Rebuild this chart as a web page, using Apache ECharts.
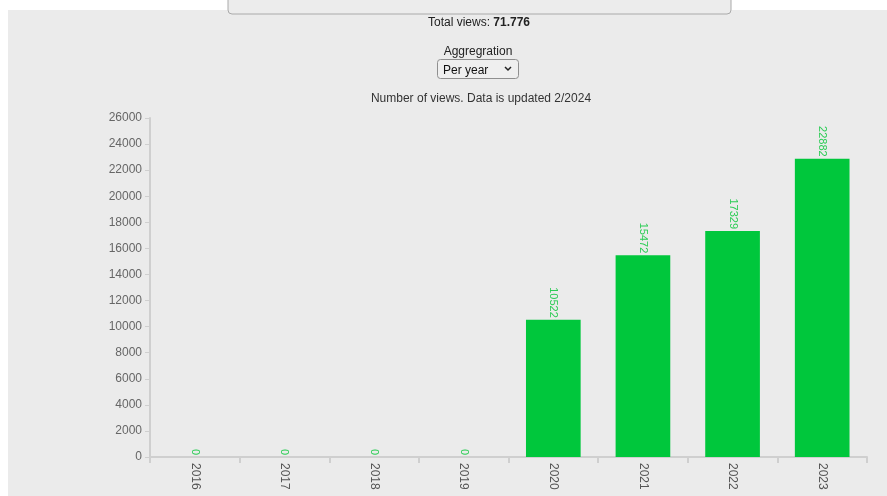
<!DOCTYPE html>
<html><head><meta charset="utf-8">
<script src="https://cdn.jsdelivr.net/npm/echarts@6/dist/echarts.min.js"></script>
<style>html,body{margin:0;padding:0;background:#fff}#c{width:887px;height:496px}</style>
</head><body><div id="c"></div>
<script>
const categories = ['2016','2017','2018','2019','2020','2021','2022','2023'];
const views = [0,0,0,0,10522,15472,17329,22882];
const yTicks = {min:0,max:26000,interval:2000};
const totalViews = '71.776';
const titleText = 'Number of views. Data is updated 2/2024';

const chart = echarts.init(document.getElementById('c'), null, {renderer:'canvas'});
const FONT = '"Liberation Sans", Arial, sans-serif';
chart.setOption({
  backgroundColor:'#fff',
  animation:false,
  graphic:[
    {type:'rect',z:-10,shape:{x:8,y:10,width:879,height:486},style:{fill:'#ebebeb'}},
    {type:'rect',z:-5,shape:{x:228,y:-10,width:503,height:24,r:4},style:{fill:'#ececec',stroke:'#aaaaaa',lineWidth:1}},
    {type:'text',x:479,y:23,style:{text:'{a|Total views: }{b|'+totalViews+'}',align:'center',verticalAlign:'middle',
      rich:{a:{fontFamily:FONT,fontSize:12,fill:'#222'},b:{fontFamily:FONT,fontSize:12,fontWeight:'bold',fill:'#222'}}}},
    {type:'text',x:478,y:51.5,style:{text:'Aggregration',align:'center',verticalAlign:'middle',fontFamily:FONT,fontSize:12,fill:'#222'}},
    {type:'rect',shape:{x:437.5,y:59.5,width:81,height:19,r:3},style:{fill:'#efefef',stroke:'#8f8f8f',lineWidth:1}},
    {type:'text',x:443,y:71,style:{text:'Per year',align:'left',verticalAlign:'middle',fontFamily:FONT,fontSize:12,fill:'#111'}},
    {type:'polyline',shape:{points:[[505,67],[508,70],[511,67]]},style:{stroke:'#222',lineWidth:1.5,fill:null}},
    {type:'text',x:481,y:99,style:{text:titleText,align:'center',verticalAlign:'middle',fontFamily:FONT,fontSize:12,fill:'#333'}}
  ],
  grid:{left:150,right:20,top:118,bottom:39,containLabel:false},
  xAxis:{type:'category',data:categories,
    axisLine:{lineStyle:{color:'#cfcfcf',width:2}},
    axisTick:{show:true,length:6,lineStyle:{color:'#cfcfcf',width:2},alignWithLabel:false},
    axisLabel:{rotate:-90,color:'#555',fontFamily:FONT,fontSize:12,margin:6}},
  yAxis:{type:'value',min:yTicks.min,max:yTicks.max,interval:yTicks.interval,
    axisLine:{show:true,lineStyle:{color:'#cfcfcf',width:2}},
    axisTick:{show:true,length:5,lineStyle:{color:'#cfcfcf'}},
    splitLine:{show:false},
    axisLabel:{color:'#666',fontFamily:FONT,fontSize:12,margin:8,formatter:v=>String(v)}},
  series:[{type:'bar',data:views,barWidth:'61%',
    itemStyle:{color:'#00c73c'},
    label:{show:true,position:'top',rotate:-90,align:'right',verticalAlign:'middle',distance:2,
      color:'#2ccc55',fontFamily:FONT,fontSize:11}}]
});
</script></body></html>
